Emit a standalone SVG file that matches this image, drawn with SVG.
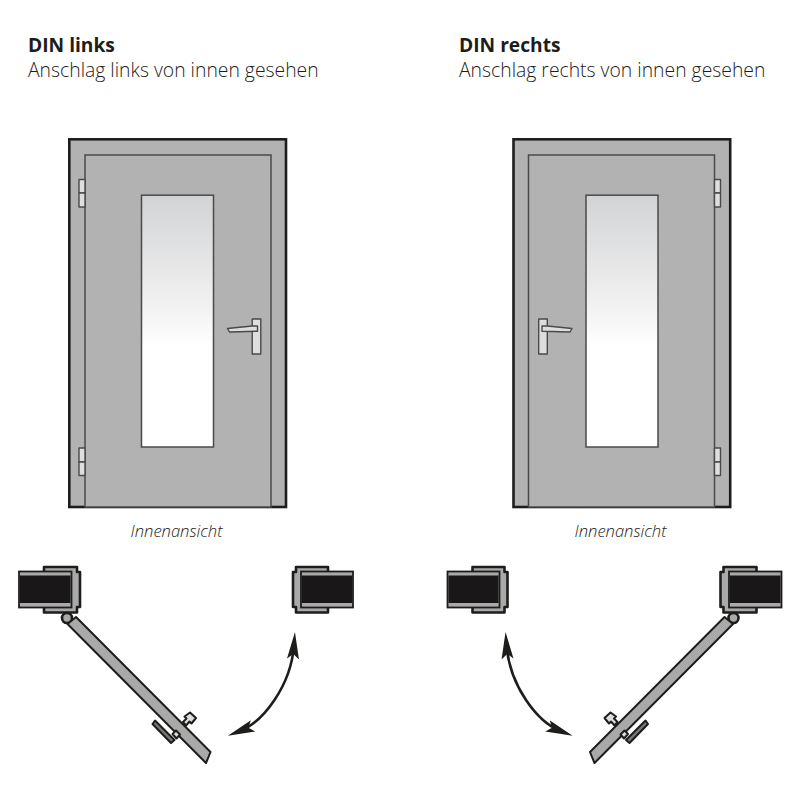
<svg xmlns="http://www.w3.org/2000/svg" width="800" height="800" viewBox="0 0 800 800">
<style>
text{font-family:"Open Sans","Noto Sans",sans-serif;fill:#1d1d1b}
.t{font-size:19.2px;font-weight:700}
.s{font-size:19.35px;font-weight:300}
.c{font-size:16.6px;font-style:italic;font-weight:300;text-anchor:middle}
.frame{fill:#b2b2b2;stroke:#1d1d1b;stroke-width:2.6}
.leaf{fill:#b2b2b2;stroke:#4a4a4a;stroke-width:1.5}
.glass{fill:url(#glass);stroke:#4a4a4a;stroke-width:1.5}
.metal{fill:#dedede;stroke:#4a4a4a;stroke-width:1.4;stroke-linejoin:round}
.wall{fill:#a9a9a9;stroke:#1d1d1b;stroke-width:1.8}
.core{fill:#1a1718}
.sec{fill:#a9a9a9;stroke:#1d1d1b;stroke-width:2.6;stroke-linejoin:round}
.bar{fill:#a9a9a9;stroke:#1d1d1b;stroke-width:2;stroke-linejoin:round}
.arc{fill:none;stroke:#1d1d1b;stroke-width:2.6;marker-start:url(#head);marker-end:url(#head)}
</style>
<defs>
<linearGradient id="glass" x1="0" y1="0" x2="0" y2="1">
<stop offset="0" stop-color="#d2d3d5"/>
<stop offset="0.45" stop-color="#f2f2f2"/>
<stop offset="0.6" stop-color="#ffffff"/>
</linearGradient>
<marker id="head" markerUnits="userSpaceOnUse" markerWidth="30" markerHeight="18" refX="14" refY="9" orient="auto-start-reverse">
<path d="M0,3 L27,9 L0,15 L5,9Z" fill="#1d1d1b"/>
</marker>
<g id="door-elev">
<rect class="frame" x="69.3" y="139.3" width="216.7" height="367.7"/>
<rect class="leaf" x="85" y="155" width="186" height="352"/>
<rect class="glass" x="141.5" y="195.2" width="72" height="251.8"/>
<rect class="metal" x="79" y="179.500" width="6" height="13.500"/>
<rect class="metal" x="79" y="193" width="6" height="14"/>
<rect class="metal" x="79" y="448" width="6" height="14"/>
<rect class="metal" x="79" y="462" width="6" height="13.500"/>
<rect class="metal" x="252.200" y="319" width="8.600" height="35"/>
<path class="metal" d="M227.500,328.500 L252.200,326 L257.500,326 L257.500,331.200 L229.500,332Z"/>
</g>
<g id="door-plan">
<path class="sec" d="M44,567 H77 V572 H80 V607 H77 V612.500 H44Z"/>
<rect class="wall" x="19" y="571.500" width="52.500" height="36"/>
<rect class="core" x="20" y="575.500" width="50.500" height="27.500"/>
<path class="sec" d="M293,572 H296 V567 H328 V612.500 H296 V607 H293Z"/>
<rect class="wall" x="301" y="571.500" width="52" height="36"/>
<rect class="core" x="302" y="575.500" width="50" height="27.500"/>
<circle class="sec" cx="67" cy="618" r="5" stroke-width="1.800"/>
<path class="bar" d="M76,617 L210.500,752 L208.500,757 L206,763 L67.500,624Z"/>
<path class="bar" d="M183,722 L186.500,718.500 L184.500,716.500 L190,712.500 L196,718 L191.500,723.500 L189.500,721.500 L186,725.500Z" style="fill:#dedede"/>
<path class="bar" d="M172.500,734 L176,730.500 L180,734.500 L176.500,738.500Z" style="fill:#dedede"/>
<path class="bar" d="M155,720.500 L174.500,740 L171,743 L152.500,724Z" style="fill:#777"/>
<path class="arc" d="M294,645 C291,686 263,722 240,731"/>
</g>
</defs>
<g id="din-links-title">
<text class="t" x="28" y="52">DIN links</text>
<text class="s" x="28" y="76.500">Anschlag links von innen gesehen</text>
</g>
<g id="din-rechts-title">
<text class="t" x="459" y="52">DIN rechts</text>
<text class="s" x="459" y="76.500">Anschlag rechts von innen gesehen</text>
</g>
<g id="door-left">
<use href="#door-elev"/>
<text class="c" x="176.500" y="537">Innenansicht</text>
</g>
<g id="door-right">
<use href="#door-elev" transform="matrix(-1 0 0 1 799.500 0)"/>
<text class="c" x="620.500" y="537">Innenansicht</text>
</g>
<g id="plan-left"><use href="#door-plan"/></g>
<g id="plan-right"><use href="#door-plan" transform="matrix(-1 0 0 1 800.500 0)"/></g>
</svg>
